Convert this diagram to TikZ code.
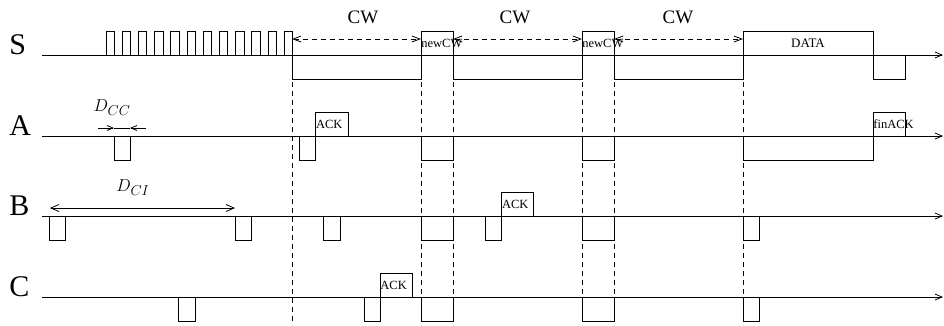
\documentclass[tikz,border=0pt]{standalone}
\usepackage{fontspec}
\setmainfont{Liberation Serif}
\usetikzlibrary{arrows.meta}
\begin{document}
\begin{tikzpicture}[x=1pt,y=-1pt, line width=0.8pt,
  sig/.style={draw, -{Straight Barb[length=7pt,width=6pt]}},
  vdash/.style={draw, dash pattern=on 5pt off 4pt},
  cwarr/.style={draw, dash pattern=on 5pt off 4pt, {Straight Barb[length=8pt,width=6pt]}-{Straight Barb[length=8pt,width=6pt]}},
  darr/.style={draw, -{Straight Barb[length=6pt,width=5pt]}},
  dblarr/.style={draw, {Straight Barb[length=8pt,width=7pt]}-{Straight Barb[length=8pt,width=7pt]}},
  rowlbl/.style={anchor=base west, inner sep=0, font=\fontsize{30}{32}\selectfont},
  cwlbl/.style={anchor=base, inner sep=0, font=\fontsize{19}{22}\selectfont},
  btxt/.style={anchor=west, inner sep=0, font=\fontsize{12.5}{14}\selectfont},
  mlbl/.style={inner sep=0, font=\fontsize{19}{21}\selectfont},
]
\useasboundingbox (0,0) rectangle (944,325);

% row labels
\node[rowlbl] (lS) at (9,54) {S};
\node[rowlbl] (lA) at (9,135) {A};
\node[rowlbl] (lB) at (9,215) {B};
\node[rowlbl] (lC) at (9,296) {C};

% vertical dashed guides
\foreach \x in {292,421,453,582,614,743}
  \draw[vdash] (\x,55) -- (\x,325);

% ---------- S ----------
\draw[sig] (42,55) -- (943,55);
\foreach \i in {0,...,11}
  \draw (106+\i*16.2,31) rectangle ++(8.3,24);
\draw (292,55) rectangle (421,79);
\draw (421,31) rectangle (453,55);
\draw (453,55) rectangle (582,79);
\draw (582,31) rectangle (614,55);
\draw (614,55) rectangle (743,79);
\draw (743,31) rectangle (873,55);
\draw (873,55) rectangle (905,79);
\node[btxt] (ncw1) at (421,43) {newCW};
\node[btxt] (ncw2) at (582,43) {newCW};
\node[inner sep=0, font=\fontsize{13}{15}\selectfont] (data) at (808,43) {DATA};
\coordinate (c1a) at (292,39); \coordinate (c1b) at (421,39);
\coordinate (c2a) at (453,39); \coordinate (c2b) at (582,39);
\coordinate (c3a) at (614,39); \coordinate (c3b) at (743,39);
\draw[cwarr] (c1a) -- (c1b);
\draw[cwarr] (c2a) -- (c2b);
\draw[cwarr] (c3a) -- (c3b);
\node[cwlbl] (cw1) at (363,23) {CW};
\node[cwlbl] (cw2) at (515,23) {CW};
\node[cwlbl] (cw3) at (678,23) {CW};

% ---------- A ----------
\draw[sig] (42,136) -- (943,136);
\draw (114,136) rectangle (130,160);
\draw (299,136) rectangle (315.7,160);
\draw (315.7,112) rectangle (348,136);
\draw (421,136) rectangle (453,160);
\draw (582,136) rectangle (614,160);
\draw (743,136) rectangle (873,160);
\draw (873,112) rectangle (905,136);
\node[btxt] (ackA) at (315.7,124) {ACK};
\node[btxt] (fin) at (873,124) {finACK};
\coordinate (dcc1) at (98,128); \coordinate (dcc2) at (114,128);
\coordinate (dcc3) at (146,128); \coordinate (dcc4) at (130,128);
\draw (dcc2) -- (dcc4);
\draw[darr] (dcc1) -- (dcc2);
\draw[darr] (dcc3) -- (dcc4);
\node[mlbl] (Dcc) at (112,108) {$D_{CC}$};

% ---------- B ----------
\draw[sig] (42,216) -- (943,216);
\draw (49,216) rectangle (65.7,240);
\draw (235,216) rectangle (251,240);
\draw (323,216) rectangle (340,240);
\draw (421,216) rectangle (453,240);
\draw (485,216) rectangle (501.7,240);
\draw (501.7,192.7) rectangle (533.3,216);
\draw (582,216) rectangle (614,240);
\draw (743,216) rectangle (759.3,240);
\node[btxt] (ackB) at (501.7,204.4) {ACK};
\coordinate (dci1) at (50,208); \coordinate (dci2) at (235,208);
\draw[dblarr] (dci1) -- (dci2);
\node[mlbl] (Dci) at (133,188) {$D_{CI}$};

% ---------- C ----------
\draw[sig] (42,297) -- (943,297);
\draw (178,297) rectangle (195,321);
\draw (364,297) rectangle (380,321);
\draw (380,273) rectangle (412.7,297);
\draw (421,297) rectangle (453,321);
\draw (582,297) rectangle (614,321);
\draw (743,297) rectangle (759.3,321);
\node[btxt] (ackC) at (380,285) {ACK};
\end{tikzpicture}
\end{document}
